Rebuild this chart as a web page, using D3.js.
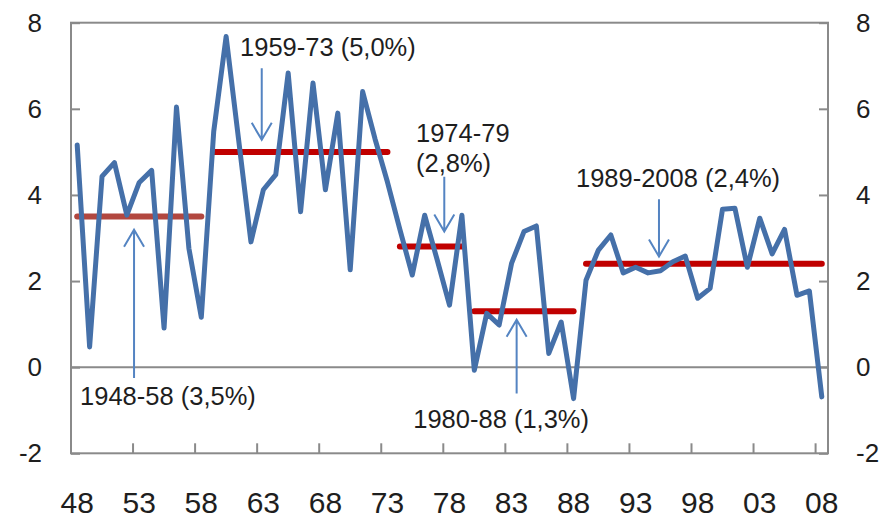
<!DOCTYPE html>
<html>
<head>
<meta charset="utf-8">
<script src="https://cdn.jsdelivr.net/npm/d3@7"></script>
<style>
  body { margin: 0; background: #fff; }
  text { font-family: "Liberation Sans", Arial, Helvetica, sans-serif; fill: #1e1e1e; }
</style>
</head>
<body>
<div id="chart"></div>
<script>
// annual growth, 1948-2008
const years = d3.range(1948, 2009);
const growth = [
  5.16, 0.47, 4.43, 4.75, 3.53, 4.29, 4.57, 0.91, 6.04, 2.76, 1.16,
  5.47, 7.68, 5.3, 2.91, 4.12, 4.47, 6.83, 3.61, 6.6, 4.12, 5.9, 2.26, 6.4, 5.3, 4.3,
  3.2, 2.14, 3.53, 2.5, 1.44, 3.53,
  -0.07, 1.25, 0.98, 2.41, 3.15, 3.28, 0.32, 1.05, -0.73,
  2.02, 2.72, 3.07, 2.19, 2.32, 2.19, 2.24, 2.45, 2.58, 1.6, 1.83, 3.67, 3.69, 2.32, 3.46, 2.63, 3.2, 1.67, 1.77, -0.69
];

// period averages
const periodStart = [1948, 1959, 1974, 1980, 1989];
const periodEnd = [1958, 1973, 1979, 1988, 2008];
const periodMean = [3.5, 5.0, 2.8, 1.3, 2.4];
const periodLabel = [['1948-58 (3,5%)'], ['1959-73 (5,0%)'], ['1974-79', '(2,8%)'], ['1980-88 (1,3%)'], ['1989-2008 (2,4%)']];

// axis ticks
const yTicks = [-2, 0, 2, 4, 6, 8];
const xTickYears = d3.range(1948, 2009, 5);
const xTickLabels = ['48', '53', '58', '63', '68', '73', '78', '83', '88', '93', '98', '03', '08'];

const width = 887, height = 521;
const plotL = 71, plotR = 828, plotT = 22.7, plotB = 453.3;

const svg = d3.select('#chart').append('svg')
  .attr('width', width)
  .attr('height', height);

const x = d3.scaleBand().domain(years).range([plotL, plotR]).padding(0);
const xc = (yr) => x(yr) + x.bandwidth() / 2;
// continuous year scale for annotation placement
const xl = d3.scaleLinear().domain([1947.5, 2008.5]).range([plotL, plotR]);
const y = d3.scaleLinear().domain([-2, 8]).range([plotB, plotT]);

const axisColor = '#8a8a8a';
const fmt = (d) => String(d); // plain hyphen for negatives

// frame
svg.append('rect')
  .attr('x', plotL).attr('y', plotT)
  .attr('width', plotR - plotL).attr('height', plotB - plotT)
  .attr('fill', 'none').attr('stroke', axisColor).attr('stroke-width', 2);

// zero line
svg.append('line')
  .attr('x1', plotL).attr('x2', plotR)
  .attr('y1', y(0)).attr('y2', y(0))
  .attr('stroke', axisColor).attr('stroke-width', 2);

// y axes (ticks point inward)
const yLeft = svg.append('g')
  .attr('transform', `translate(${plotL},0)`)
  .call(d3.axisLeft(y).tickValues(yTicks).tickSizeInner(-9).tickSizeOuter(0).tickPadding(29).tickFormat(fmt));
const yRight = svg.append('g')
  .attr('transform', `translate(${plotR},0)`)
  .call(d3.axisRight(y).tickValues(yTicks).tickSizeInner(-9).tickSizeOuter(0).tickPadding(28).tickFormat(fmt));
[yLeft, yRight].forEach((g) => {
  g.select('.domain').remove();
  g.selectAll('line').attr('stroke', axisColor).attr('stroke-width', 2);
  g.selectAll('text').attr('font-size', 26).attr('fill', '#1e1e1e')
    .attr('font-family', '"Liberation Sans", Arial, Helvetica, sans-serif');
});

// x ticks at category boundaries, labels centered on category
svg.append('g').selectAll('line')
  .data(xTickYears)
  .join('line')
  .attr('x1', (d) => x(d)).attr('x2', (d) => x(d))
  .attr('y1', plotB).attr('y2', plotB - 10)
  .attr('stroke', axisColor).attr('stroke-width', 2);

svg.append('g').selectAll('text')
  .data(xTickYears)
  .join('text')
  .attr('x', (d) => xc(d))
  .attr('y', 513)
  .attr('text-anchor', 'middle')
  .attr('font-size', 30)
  .text((d, i) => xTickLabels[i]);

// period average bars
svg.append('g').selectAll('line')
  .data(periodMean)
  .join('line')
  .attr('x1', (d, i) => xc(periodStart[i]))
  .attr('x2', (d, i) => xc(periodEnd[i]))
  .attr('y1', (d) => y(d)).attr('y2', (d) => y(d))
  .attr('stroke', (d, i) => i === 0 ? '#b2473f' : '#c00000')
  .attr('stroke-width', 6)
  .attr('stroke-linecap', 'round');

// growth line
const line = d3.line()
  .x((d, i) => xc(years[i]))
  .y((d) => y(d));

svg.append('path')
  .datum(growth)
  .attr('d', line)
  .attr('fill', 'none')
  .attr('stroke', '#4570a9')
  .attr('stroke-width', 5)
  .attr('stroke-linejoin', 'round')
  .attr('stroke-linecap', 'round');

// annotations: arrow x (year), tail and tip (value), text anchor (year, value)
const notes = [
  { ax: 1952.58, tail: -0.25, tip: 3.19, tx: 1948.23, ty: [-0.88] },
  { ax: 1962.87, tail: 6.94, tip: 5.28, tx: 1961.12, ty: [7.23] },
  { ax: 1977.58, tail: 4.42, tip: 3.15, tx: 1975.3, ty: [5.24, 4.54] },
  { ax: 1983.41, tail: -0.61, tip: 1.10, tx: 1975.08, ty: [-1.41] },
  { ax: 1994.88, tail: 3.90, tip: 2.57, tx: 1988.19, ty: [4.18] }
];

const ann = svg.append('g');
notes.forEach((n, i) => {
  const ax = xl(n.ax);
  const y0 = y(n.tail), y1 = y(n.tip);
  const dir = y1 < y0 ? 1 : -1;
  ann.append('path')
    .attr('d', `M${ax},${y0}L${ax},${y1}M${ax - 10},${y1 + dir * 17}L${ax},${y1}L${ax + 10},${y1 + dir * 17}`)
    .attr('fill', 'none')
    .attr('stroke', '#5484c2')
    .attr('stroke-width', 2);
  periodLabel[i].forEach((s, j) => {
    ann.append('text')
      .attr('x', xl(n.tx))
      .attr('y', y(n.ty[j]))
      .attr('font-size', 25.5)
      .text(s);
  });
});
</script>
</body>
</html>
